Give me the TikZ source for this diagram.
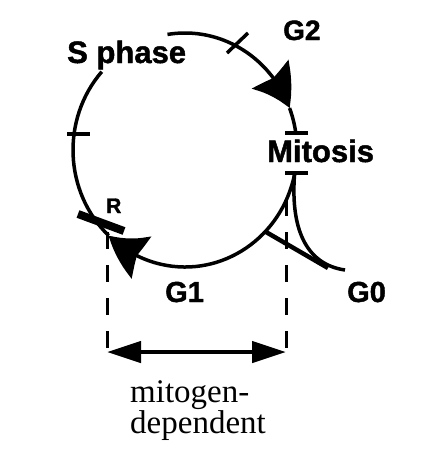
\documentclass[tikz,border=0pt]{standalone}
\usepackage{fontspec}
\setmainfont{Liberation Serif}
\setsansfont{Liberation Sans}[BoldFeatures={FakeBold=1.5}]
\usetikzlibrary{arrows.meta,bending,positioning}

\begin{document}
\begin{tikzpicture}[x=1pt,y=-1pt,
  cyc/.style={line width=3.5pt},
  bar/.style={line width=3.5pt},
  ell/.style={x radius=112, y radius=117},
  head/.style={-{Stealth[length=40pt,width=46pt,inset=5pt,bend]}},
  phase/.style={font=\sffamily\bfseries\fontsize{#1}{#1}\selectfont, inner sep=0pt, anchor=base west},
  phase/.default=31,
  dline/.style={line width=3pt, dash pattern=on 17pt off 16pt},
  span/.style={line width=4.5pt, {Triangle[length=34pt,width=21pt]}-{Triangle[length=34pt,width=21pt]}},
  word/.style={font=\fontsize{33}{33}\selectfont, inner sep=0pt, anchor=base west}
]
\useasboundingbox (0,0) rectangle (423,453);
% cycle, centre (185,150), radii 112 and 117
\coordinate (c) at (185,150);
% S phase -> G2 -> mitosis
\draw[cyc,head] (c) ++(-99:112 and 117) arc[ell, start angle=-99, end angle=-21];
\draw[cyc] (c) ++(-21:112 and 117) arc[ell, start angle=-21, end angle=-8];
% mitosis -> G1 -> R -> S phase
\draw[cyc,head] (c) ++(12:112 and 117) arc[ell, start angle=12, end angle=133];
\draw[cyc] (c) ++(133:112 and 117) arc[ell, start angle=133, end angle=222];
% exit to G0
\draw[cyc] (c) ++(12:112 and 117) .. controls (290,235) and (310,265) .. (345,270);
% ticks
\draw[bar] (227,53) -- (248,33);
\draw[bar] (67,134) -- (90,134);
\draw[bar] (285,133) -- (308,133);
\draw[bar] (285,173) -- (308,173);
\draw[line width=8pt] (78,214) -- (124,231);
\draw[line width=4.5pt] (266,232) -- (328,268);
% labels
\node[phase] (sph) at (67,63) {S phase};
\node[phase=28] (g2) at (283,40) {G2};
\node[phase] (mit) at (267,162) {Mitosis};
\node[phase=29] (g1) at (165,302) {G1};
\node[phase=29] (g0) at (347,302) {G0};
\node[phase=21] (r) at (106,213) {R};
% mitogen-dependent span
\coordinate (dl) at (107,232);
\coordinate (dr) at (286,199);
\coordinate (al) at (107,352);
\coordinate (ar) at (286,352);
\draw[dline] (dl) -- (al);
\draw[dline] (dr) -- (ar);
\draw[span] (al) -- (ar);
\node[word] (mitog) at (130,402) {mitogen-};
\node[word] (dep) at (130,433) {dependent};
\end{tikzpicture}
\end{document}
